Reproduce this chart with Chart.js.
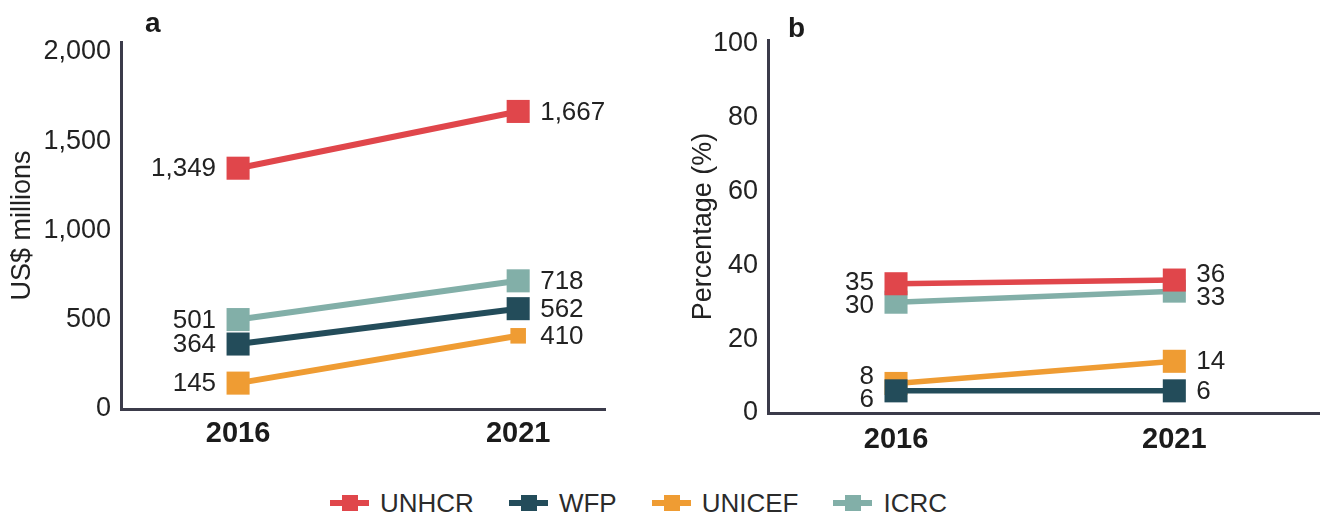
<!DOCTYPE html>
<html>
<head>
<meta charset="utf-8">
<script src="https://cdn.jsdelivr.net/npm/chart.js@4.4.0/dist/chart.umd.min.js"></script>
<style>
  html, body { margin: 0; background: #fff; overflow: hidden; }
  #wrap { position: relative; width: 1320px; height: 520px; overflow: hidden;
    font-family: 'Liberation Sans', Arial, sans-serif; }
  .box { position: absolute; top: 0; height: 470px; }
  #boxA { left: 0; width: 640px; }
  #boxB { left: 640px; width: 697px; }
  canvas { display: block; }
  .tag { position: absolute; font: bold 28px 'Liberation Sans', Arial, sans-serif; line-height: 28px; color: #1b1b1b; }
  #legend { position: absolute; left: 330px; top: 486px; display: flex; align-items: center; gap: 35px; }
  .item { display: flex; align-items: center; gap: 11px; font-size: 26px; line-height: 34px; color: #2b2b2b; }
  .mark { position: relative; width: 39px; height: 16px; }
  .mark::before { content: ''; position: absolute; left: 0; right: 0; top: 5px; height: 6px; background: var(--c); }
  .mark::after { content: ''; position: absolute; left: 12px; top: 0; width: 16px; height: 16px; background: var(--c); }
</style>
</head>
<body>
<div id="wrap">
  <div class="box" id="boxA"><canvas id="chartA" width="640" height="470"></canvas></div>
  <div class="box" id="boxB"><canvas id="chartB" width="697" height="470"></canvas></div>
  <div class="tag" style="left:145px; top:9px;">a</div>
  <div class="tag" style="left:788px; top:14px;">b</div>
  <div id="legend"></div>
</div>
<script>
const years = [2016, 2021];
const agencies = ['UNHCR', 'WFP', 'UNICEF', 'ICRC'];
const colors = ['#e0464b', '#234c5a', '#ef9c33', '#82afa8'];

// panel a: US$ millions
const unhcrUSD = [1349, 1667];
const wfpUSD = [364, 562];
const unicefUSD = [145, 410];
const icrcUSD = [501, 718];
const usdTicks = [0, 500, 1000, 1500, 2000];

// panel b: percentage
const unhcrPct = [35, 36];
const wfpPct = [6, 6];
const unicefPct = [8, 14];
const icrcPct = [30, 33];
const pctTicks = [0, 20, 40, 60, 80, 100];

const sans = "'Liberation Sans', Arial, sans-serif";
const axisColor = '#3b3b4a';
const textColor = '#222222';

function spread(list, gap) {
  list.forEach(l => { l.ly = l.y; });
  for (let n = 0; n < 20; n++) {
    for (let j = 0; j < list.length - 1; j++) {
      const d = list[j + 1].ly - list[j].ly;
      if (d < gap) {
        const push = (gap - d) / 2;
        list[j].ly -= push;
        list[j + 1].ly += push;
      }
    }
  }
}

const pointLabels = {
  id: 'pointLabels',
  afterDatasetsDraw(chart, args, opts) {
    const ctx = chart.ctx;
    const sides = [[], []];
    chart.data.datasets.forEach((ds, di) => {
      const meta = chart.getDatasetMeta(di);
      meta.data.forEach((pt, i) => {
        sides[i].push({ x: pt.x, y: pt.y, text: opts.format(ds.data[i].y) });
      });
    });
    ctx.save();
    ctx.font = opts.font;
    ctx.fillStyle = textColor;
    ctx.textBaseline = 'middle';
    sides.forEach((list, side) => {
      list.sort((a, b) => a.y - b.y);
      spread(list, opts.gap);
      ctx.textAlign = side === 0 ? 'right' : 'left';
      list.forEach(l => {
        ctx.fillText(l.text, l.x + (side === 0 ? -opts.offset : opts.offset), l.ly + 1);
      });
    });
    ctx.restore();
  }
};

function makeDatasets(seriesList, lineWidth, radii) {
  return seriesList.map((vals, i) => ({
    label: agencies[i],
    data: years.map((yr, k) => ({ x: yr, y: vals[k] })),
    borderColor: colors[i],
    backgroundColor: colors[i],
    pointBackgroundColor: colors[i],
    borderWidth: lineWidth,
    pointStyle: 'rect',
    pointRadius: radii[i],
    pointBorderWidth: 0,
    pointHoverRadius: radii[i],
    clip: false,
  }));
}

function makeChart(canvas, cfg) {
  return new Chart(canvas, {
    type: 'line',
    data: { datasets: makeDatasets(cfg.series, cfg.lineWidth, cfg.radii) },
    plugins: [pointLabels],
    options: {
      responsive: false,
      animation: false,
      devicePixelRatio: 1,
      layout: { padding: cfg.padding },
      plugins: {
        legend: { display: false },
        tooltip: { enabled: false },
        pointLabels: { format: cfg.format, font: '26px ' + sans, offset: 22, gap: 23 },
      },
      scales: {
        x: {
          type: 'linear',
          min: cfg.xMin,
          max: cfg.xMax,
          afterBuildTicks: (s) => { s.ticks = years.map(v => ({ value: v })); },
          afterFit: (s) => { s.height = cfg.xHeight; },
          grid: { display: false, drawTicks: false },
          border: { display: true, color: axisColor, width: 3 },
          ticks: {
            autoSkip: false,
            maxRotation: 0,
            padding: cfg.xPad,
            color: '#1b1b1b',
            font: { family: sans, size: 29, weight: 'bold' },
            callback: (v) => String(v),
          },
        },
        y: {
          min: 0,
          max: cfg.yMax,
          afterBuildTicks: (s) => { s.ticks = cfg.yTicks.map(v => ({ value: v })); },
          afterFit: (s) => { s.width = cfg.yWidth; },
          grid: { display: false, drawTicks: false },
          border: { display: true, color: axisColor, width: 3 },
          ticks: {
            padding: 10,
            color: textColor,
            font: { family: sans, size: 27 },
            callback: cfg.format,
          },
          title: {
            display: true,
            text: cfg.yTitle,
            color: textColor,
            font: { family: sans, size: 27, lineHeight: 1.2 },
            padding: { top: 4, bottom: 4 },
          },
        },
      },
    },
  });
}

makeChart(document.getElementById('chartA'), {
  series: [unhcrUSD, wfpUSD, unicefUSD, icrcUSD],
  radii: [16.3, 16.3, [16.3, 11], 16.3],
  lineWidth: 6,
  format: (v) => Number(v).toLocaleString('en-US'),
  yTitle: 'US$ millions',
  yTicks: usdTicks,
  yMax: 2056,
  yWidth: 119,
  xMin: 2013.91,
  xMax: 2022.55,
  xHeight: 61,
  xPad: 8,
  padding: { top: 42, right: 35, left: 2, bottom: 0 },
});

// the x axis keeps ~17px spare on its right, so this canvas runs past the page edge
makeChart(document.getElementById('chartB'), {
  series: [unhcrPct, wfpPct, unicefPct, icrcPct],
  radii: [16.3, 16.3, 16.3, 16.3],
  lineWidth: 5.5,
  format: (v) => String(v),
  yTitle: 'Percentage (%)',
  yTicks: pctTicks,
  yMax: 101,
  yWidth: 85,
  xMin: 2013.70,
  xMax: 2023.63,
  xHeight: 57,
  xPad: 10,
  padding: { top: 40, right: 0, left: 43, bottom: 0 },
});

const legend = document.getElementById('legend');
agencies.forEach((name, i) => {
  const item = document.createElement('div');
  item.className = 'item';
  const mark = document.createElement('span');
  mark.className = 'mark';
  mark.style.setProperty('--c', colors[i]);
  const txt = document.createElement('span');
  txt.textContent = name;
  item.appendChild(mark);
  item.appendChild(txt);
  legend.appendChild(item);
});
</script>
</body>
</html>
